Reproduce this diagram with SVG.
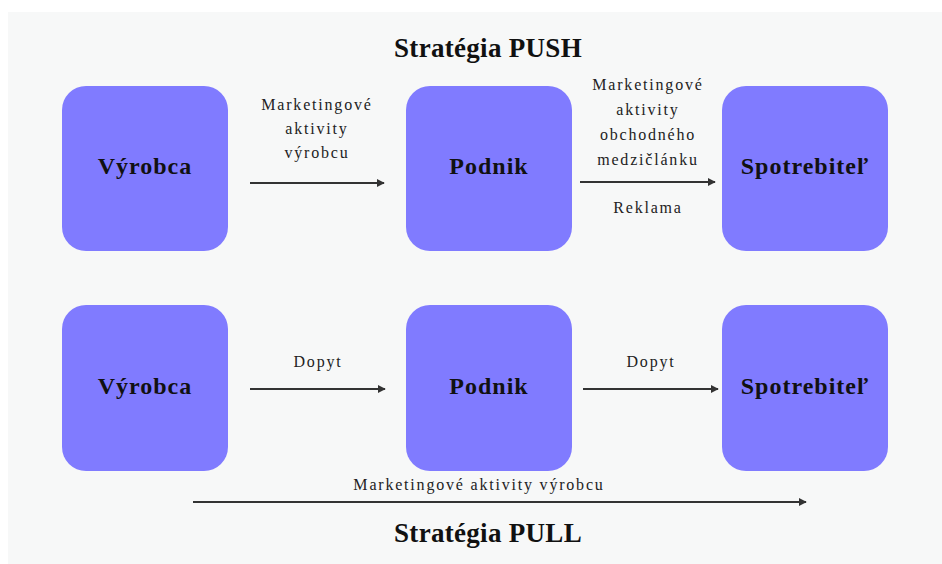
<svg xmlns="http://www.w3.org/2000/svg" width="942" height="564" viewBox="0 0 942 564">
  <style>
    .node { fill: #807bff; }
    .ntext { font-family: "Liberation Serif", "Times New Roman", serif; font-weight: bold; font-size: 24px; letter-spacing: 1px; fill: #111; text-anchor: middle; }
    .title { font-family: "Liberation Serif", "Times New Roman", serif; font-weight: bold; font-size: 27px; letter-spacing: 0.3px; fill: #111; text-anchor: middle; }
    .lbl { font-family: "Liberation Serif", "Times New Roman", serif; font-size: 16px; letter-spacing: 1.8px; fill: #222; text-anchor: middle; }
    .edge { stroke: #333; stroke-width: 2; fill: none; marker-end: url(#arrow); }
  </style>
  <defs>
    <marker id="arrow" viewBox="0 0 10 10" refX="9" refY="5" markerWidth="4" markerHeight="4" orient="auto" markerUnits="strokeWidth">
      <path d="M0,0 L10,5 L0,10 z" fill="#333"/>
    </marker>
  </defs>

  <rect x="0" y="0" width="942" height="564" fill="#ffffff"/>
  <rect x="8" y="12" width="934" height="552" fill="#f7f8f8"/>

  <text class="title" x="488" y="57">Stratégia PUSH</text>
  <text class="title" x="488" y="542">Stratégia PULL</text>

  <!-- PUSH row -->
  <g id="push-vyrobca">
    <rect class="node" x="62" y="86" width="166" height="165" rx="24"/>
    <text class="ntext" x="145" y="174">Výrobca</text>
  </g>
  <g id="push-podnik">
    <rect class="node" x="406" y="86" width="166" height="165" rx="24"/>
    <text class="ntext" x="489" y="174">Podnik</text>
  </g>
  <g id="push-spotrebitel">
    <rect class="node" x="722" y="86" width="166" height="165" rx="24"/>
    <text class="ntext" x="805" y="174">Spotrebiteľ</text>
  </g>

  <!-- PULL row -->
  <g id="pull-vyrobca">
    <rect class="node" x="62" y="305" width="166" height="166" rx="24"/>
    <text class="ntext" x="145" y="394">Výrobca</text>
  </g>
  <g id="pull-podnik">
    <rect class="node" x="406" y="305" width="166" height="166" rx="24"/>
    <text class="ntext" x="489" y="394">Podnik</text>
  </g>
  <g id="pull-spotrebitel">
    <rect class="node" x="722" y="305" width="166" height="166" rx="24"/>
    <text class="ntext" x="805" y="394">Spotrebiteľ</text>
  </g>

  <g id="connectors">
    <line class="edge" x1="250" y1="183" x2="384" y2="183"/>
    <line class="edge" x1="580" y1="182" x2="715" y2="182"/>
    <line class="edge" x1="250" y1="389" x2="385" y2="389"/>
    <line class="edge" x1="583" y1="389" x2="718" y2="389"/>
    <line class="edge" x1="193" y1="502" x2="806" y2="502"/>

    <text class="lbl" x="317" y="110">Marketingové</text>
    <text class="lbl" x="317" y="134">aktivity</text>
    <text class="lbl" x="317" y="158">výrobcu</text>

    <text class="lbl" x="648" y="90">Marketingové</text>
    <text class="lbl" x="648" y="115">aktivity</text>
    <text class="lbl" x="648" y="140">obchodného</text>
    <text class="lbl" x="648" y="165">medzičlánku</text>
    <text class="lbl" x="648" y="213">Reklama</text>

    <text class="lbl" x="318" y="367">Dopyt</text>
    <text class="lbl" x="651" y="367">Dopyt</text>

    <text class="lbl" x="479" y="490">Marketingové aktivity výrobcu</text>
  </g>
</svg>
